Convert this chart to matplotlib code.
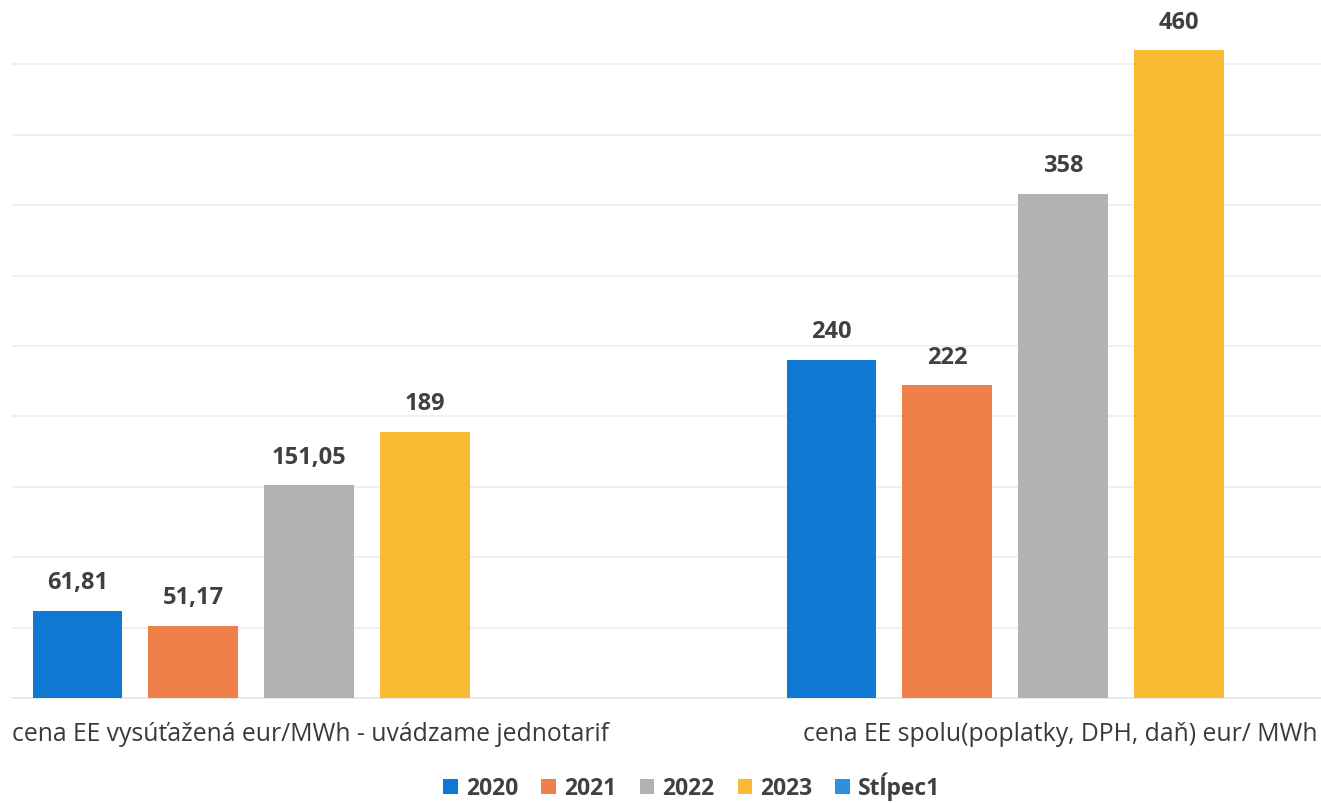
import matplotlib
matplotlib.use("Agg")
import matplotlib.pyplot as plt
import numpy as np

categories = ["cena EE vysúťažená eur/MWh - uvádzame jednotarif",
              "cena EE spolu(poplatky, DPH, daň) eur/ MWh"]
series_names = ["2020", "2021", "2022", "2023", "Stĺpec1"]
v2020 = [61.81, 240]
v2021 = [51.17, 222]
v2022 = [151.05, 358]
v2023 = [189, 460]
vstlpec1 = [None, None]
labels2020 = ["61,81", "240"]
labels2021 = ["51,17", "222"]
labels2022 = ["151,05", "358"]
labels2023 = ["189", "460"]

colors = ["#0F78D2", "#F0804A", "#B2B2B2", "#F8BA32", "#2E8FDA"]

W, H = 1321, 804
fig = plt.figure(figsize=(W / 100, H / 100), dpi=100)
fig.patch.set_facecolor("white")
base = 699
top_px = 0
ax = fig.add_axes([12 / W, 1 - base / H, 1 - 12 / W, (base - top_px) / H])

x = np.arange(len(categories))
step = 0.1535
width = 0.119
data = [v2020, v2021, v2022, v2023, vstlpec1]
labs = [labels2020, labels2021, labels2022, labels2023, [None, None]]
font = "Open Sans"
for i, (vals, lab) in enumerate(zip(data, labs)):
    xs = x + (i - 2) * step
    hv = [v if v is not None else 0 for v in vals]
    bars = ax.bar(xs, hv, width=width, color=colors[i], label=series_names[i], zorder=3)
    for b, l, v in zip(bars, lab, vals):
        if v is None:
            continue
        ax.annotate(l, (b.get_x() + b.get_width() / 2, v), xytext=(0, 12),
                    textcoords="offset points", ha="center", va="bottom",
                    fontsize=17, fontweight="bold", color="#404040", family=font)

ax.set_xlim((12 - 309) / 754, (1321 - 309) / 754)
ax.set_ylim(0, 496.5)
ax.set_yticks(np.arange(0, 451, 50))
ax.yaxis.grid(True, color="#EDEDED", linewidth=1.2, zorder=0)
ax.tick_params(axis="y", left=False, labelleft=False)
ax.tick_params(axis="x", bottom=False, labelbottom=False)
for s in ["top", "right", "left"]:
    ax.spines[s].set_visible(False)
ax.spines["bottom"].set_color("#E6E6E6")
ax.spines["bottom"].set_linewidth(1.2)

cat_x = [311, 1060]
for cx, c in zip(cat_x, categories):
    fig.text(cx / W, 1 - 735 / H, c, ha="center", va="center",
             fontsize=17.8, color="#3A3A3A", family=font)

leg = fig.legend(loc="center", bbox_to_anchor=(692 / W, 1 - 787 / H), ncol=5,
                 frameon=False, handlelength=0.65, handleheight=0.65,
                 handletextpad=0.35, columnspacing=1.0,
                 prop={"family": font, "size": 16.5, "weight": "bold"})
for t in leg.get_texts():
    t.set_color("#404040")

fig.savefig("out.png", dpi=100, facecolor="white")
